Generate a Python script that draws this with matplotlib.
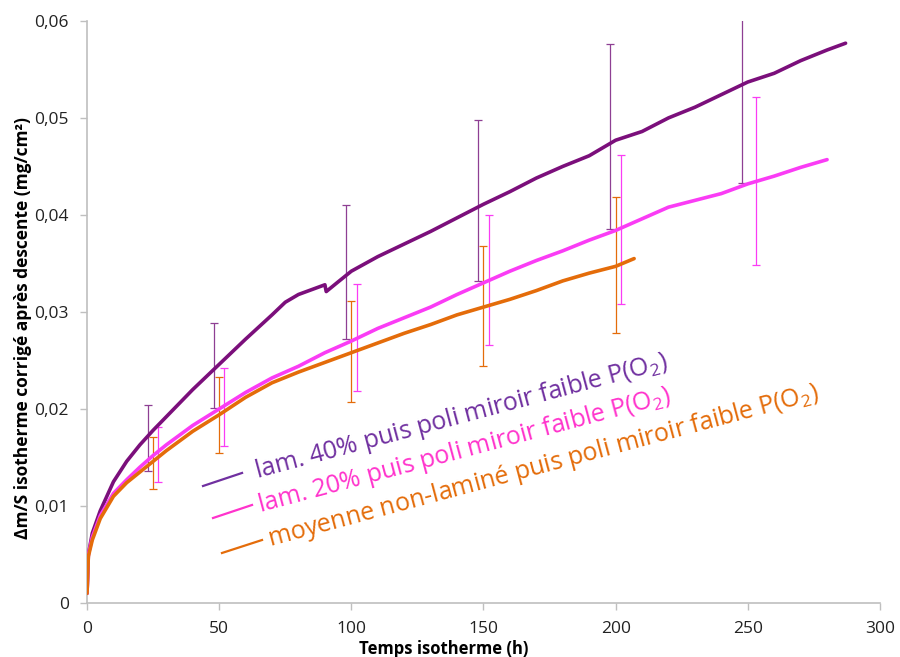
import matplotlib
matplotlib.use("Agg")
import matplotlib.pyplot as plt
from matplotlib.lines import Line2D
from matplotlib.ticker import FuncFormatter

plt.rcParams['font.family'] = ['Open Sans', 'DejaVu Sans']
plt.rcParams['mathtext.default'] = 'regular'

# ---- data ----
t_l40 = [0, 0.5, 2, 5, 10, 15, 20, 25, 30, 40, 50, 60, 70, 75, 80, 85, 90, 90.5, 95, 100,
         110, 120, 130, 140, 150, 160, 170, 180, 190, 200, 210, 220, 230, 240, 250, 260, 270, 280, 287]
y_l40 = [0.001, 0.005, 0.0072, 0.0095, 0.0125, 0.0146, 0.0163, 0.0178, 0.0192, 0.0220, 0.0246,
         0.0272, 0.0297, 0.0310, 0.0318, 0.0323, 0.0328, 0.0321, 0.0331, 0.0342,
         0.0357, 0.0370, 0.0383, 0.0397, 0.0411, 0.0424, 0.0438, 0.0450, 0.0461, 0.0477,
         0.0486, 0.0500, 0.0511, 0.0524, 0.0537, 0.0546, 0.0559, 0.0570, 0.0577]

t_l20 = [0, 0.5, 2, 5, 10, 15, 20, 25, 30, 40, 50, 60, 70, 80, 90, 100, 110, 120, 130, 140,
         150, 160, 170, 180, 190, 200, 210, 220, 230, 240, 250, 260, 270, 280]
y_l20 = [0.001, 0.005, 0.0068, 0.0090, 0.0113, 0.0127, 0.0140, 0.0152, 0.0163, 0.0183, 0.0200,
         0.0217, 0.0232, 0.0244, 0.0258, 0.0270, 0.0283, 0.0294, 0.0305, 0.0318,
         0.0330, 0.0342, 0.0353, 0.0363, 0.0374, 0.0384, 0.0396, 0.0408, 0.0415, 0.0422,
         0.0432, 0.0440, 0.0449, 0.0457]

t_nl = [0, 0.5, 2, 5, 10, 15, 20, 25, 30, 40, 50, 60, 70, 80, 90, 100, 110, 120, 130, 140,
        150, 160, 170, 180, 190, 200, 207]
y_nl = [0.001, 0.0048, 0.0065, 0.0087, 0.0110, 0.0124, 0.0135, 0.0146, 0.0157, 0.0177, 0.0194,
        0.0212, 0.0227, 0.0238, 0.0248, 0.0258, 0.0268, 0.0278, 0.0287, 0.0297,
        0.0305, 0.0313, 0.0322, 0.0332, 0.0340, 0.0347, 0.0355]

# error bars
eb_l40_t = [23, 48, 98, 148, 198, 248]
eb_l40_y = [0.0170, 0.0245, 0.0341, 0.0415, 0.0481, 0.0538]
eb_l40_e = [0.0034, 0.0044, 0.0069, 0.0083, 0.0095, 0.0105]

eb_l20_t = [27, 52, 102, 152, 202, 253]
eb_l20_y = [0.0153, 0.0202, 0.0274, 0.0333, 0.0385, 0.0435]
eb_l20_e = [0.0028, 0.0040, 0.0055, 0.0067, 0.0077, 0.0087]

eb_nl_t = [25, 50, 100, 150, 200]
eb_nl_y = [0.0144, 0.0194, 0.0259, 0.0306, 0.0348]
eb_nl_e = [0.0027, 0.0039, 0.0052, 0.0062, 0.0070]

labels = ['lam. 40% puis poli miroir faible P(O$_2$)',
          'lam. 20% puis poli miroir faible P(O$_2$)',
          'moyenne non-laminé puis poli miroir faible P(O$_2$)']

xticks = [0, 50, 100, 150, 200, 250, 300]
yticks = [0, 0.01, 0.02, 0.03, 0.04, 0.05, 0.06]

# ---- styling ----
c_l40 = '#7B0F7B'
c_l20 = '#FA3CF5'
c_nl = '#E46C0A'
c_l40_eb = '#8E3F93'
txt_cols = ['#7030A0', '#FF33CC', '#E46C0A']

fig = plt.figure(figsize=(9, 6.57), dpi=100)
ax = fig.add_axes([0.0967, 0.0822, 0.881, 0.886])

ax.errorbar(eb_l40_t, eb_l40_y, yerr=eb_l40_e, fmt='none', ecolor=c_l40_eb, elinewidth=0.9,
            capsize=3, capthick=0.9, zorder=2)
ax.errorbar(eb_l20_t, eb_l20_y, yerr=eb_l20_e, fmt='none', ecolor=c_l20, elinewidth=0.9,
            capsize=3, capthick=0.9, zorder=2)
ax.errorbar(eb_nl_t, eb_nl_y, yerr=eb_nl_e, fmt='none', ecolor=c_nl, elinewidth=0.9,
            capsize=3, capthick=0.9, zorder=2)

ax.plot(t_l40, y_l40, color=c_l40, lw=2.6, zorder=3, solid_capstyle='round')
ax.plot(t_l20, y_l20, color=c_l20, lw=2.6, zorder=3, solid_capstyle='round')
ax.plot(t_nl, y_nl, color=c_nl, lw=2.6, zorder=4, solid_capstyle='round')

ax.set_xlim(0, 300)
ax.set_ylim(0, 0.06)
ax.set_xticks(xticks)
ax.set_yticks(yticks)
ax.yaxis.set_major_formatter(FuncFormatter(lambda v, p: '0' if v == 0 else ('%.2f' % v).replace('.', ',')))
ax.xaxis.set_major_formatter(FuncFormatter(lambda v, p: '%d' % v))

for s in ['top', 'right']:
    ax.spines[s].set_visible(False)
for s in ['left', 'bottom']:
    ax.spines[s].set_color('#BFBFBF')
    ax.spines[s].set_linewidth(1.2)
ax.tick_params(axis='both', direction='out', length=5, width=1, color='#BFBFBF',
               labelsize=12.5, labelcolor='#222222')
ax.tick_params(axis='x', pad=8)
ax.tick_params(axis='y', pad=8)

ax.set_xlabel('Temps isotherme (h)', fontsize=12, fontweight='bold')
ax.xaxis.set_label_coords(0.45, -0.063)
ax.set_ylabel('Δm/S isotherme corrigé après descente (mg/cm²)', fontsize=12.5, fontweight='bold')
ax.yaxis.set_label_coords(-0.069, 0.472)

# rotated in-plot legend
leg_text_pos = [(0.2144, 0.2148), (0.2182, 0.1564), (0.2308, 0.0979)]
leg_line_pos = [((0.1463, 0.2010), (0.1955, 0.2234)),
                ((0.1589, 0.1460), (0.2081, 0.1684)),
                ((0.1702, 0.0859), (0.2207, 0.1082))]
for lab, col, tp, lp in zip(labels, txt_cols, leg_text_pos, leg_line_pos):
    ax.add_line(Line2D([lp[0][0], lp[1][0]], [lp[0][1], lp[1][1]], transform=ax.transAxes,
                       color=col, lw=1.6, zorder=5))
    ax.text(tp[0], tp[1], lab, transform=ax.transAxes, rotation=15, rotation_mode='anchor',
            ha='left', va='baseline', color=col, fontsize=18, zorder=5)

fig.savefig('out.png', dpi=100)
